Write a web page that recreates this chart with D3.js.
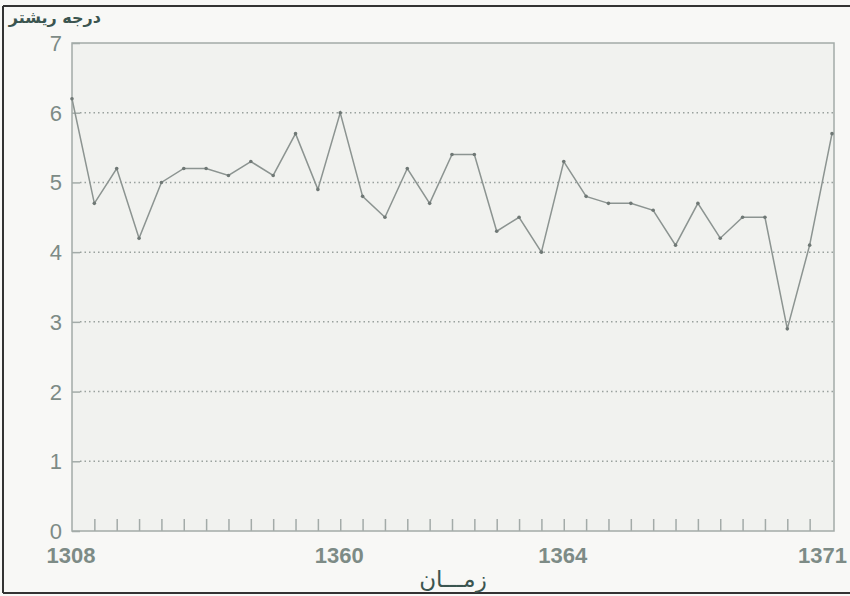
<!DOCTYPE html>
<html lang="fa">
<head>
    <meta charset="UTF-8">
    <title>درجه ریشتر</title>
    <script src="https://d3js.org/d3.v7.min.js"></script>
    <style>
        body { margin: 0; background: #f8f8f6; }
        svg { display: block; }
    </style>
</head>
<body>
    <svg id="chart" width="850" height="596"></svg>

    <script>
        // magnitude per event (left to right)
        const magnitudes = [6.2, 4.7, 5.2, 4.2, 5.0, 5.2, 5.2, 5.1, 5.3, 5.1,
                            5.7, 4.9, 6.0, 4.8, 4.5, 5.2, 4.7, 5.4, 5.4, 4.3,
                            4.5, 4.0, 5.3, 4.8, 4.7, 4.7, 4.6, 4.1, 4.7, 4.2,
                            4.5, 4.5, 2.9, 4.1, 5.7];
        const xTickIndex = [0, 12, 22, 34];
        const xTickLabels = ["1308", "1360", "1364", "1371"];
        const yTicks = [0, 1, 2, 3, 4, 5, 6, 7];

        const width = 850, height = 596;
        const margin = { top: 43, right: 16, bottom: 65, left: 72 };
        const textColor = "#7d8b86";
        const axisColor = "#a3aba8";
        const lineColor = "#8c9491";

        const svg = d3.select("#chart");

        // frame of the scanned page
        svg.append("rect").attr("width", width).attr("height", height).attr("fill", "#f8f8f6");
        svg.append("line").attr("x1", 3).attr("x2", 850).attr("y1", 6).attr("y2", 6)
            .attr("stroke", "#333").attr("stroke-width", 2);
        svg.append("line").attr("x1", 3).attr("x2", 3).attr("y1", 6).attr("y2", 593)
            .attr("stroke", "#333").attr("stroke-width", 2);
        svg.append("line").attr("x1", 3).attr("x2", 850).attr("y1", 593).attr("y2", 593)
            .attr("stroke", "#333").attr("stroke-width", 2);

        const x = d3.scaleLinear()
            .domain([0, magnitudes.length - 1])
            .range([margin.left, 832]);
        const y = d3.scaleLinear()
            .domain([0, 7])
            .range([height - margin.bottom, margin.top]);

        const plotRight = width - margin.right;

        svg.append("rect")
            .attr("x", margin.left).attr("y", margin.top)
            .attr("width", plotRight - margin.left)
            .attr("height", y(0) - margin.top)
            .attr("fill", "#f1f2ef")
            .attr("stroke", axisColor)
            .attr("stroke-width", 1.5);

        // dotted gridlines
        svg.append("g")
            .selectAll("line")
            .data(yTicks.filter(d => d > 0 && d < 7))
            .join("line")
            .attr("x1", margin.left + 8)
            .attr("x2", plotRight)
            .attr("y1", d => y(d))
            .attr("y2", d => y(d))
            .attr("stroke", "#9aa19e")
            .attr("stroke-width", 1.5)
            .attr("stroke-dasharray", "1.5,3");

        // y axis (ticks inside)
        const yAxis = svg.append("g")
            .attr("transform", `translate(${margin.left},0)`)
            .call(d3.axisRight(y).tickValues(yTicks).tickSize(8).tickFormat(""));
        yAxis.select(".domain").remove();
        yAxis.selectAll("line").attr("stroke", axisColor).attr("stroke-width", 1.5);

        svg.append("g")
            .selectAll("text")
            .data(yTicks)
            .join("text")
            .attr("x", 62)
            .attr("y", d => y(d) + 8)
            .attr("text-anchor", "end")
            .attr("font-family", "Liberation Sans, Arial, sans-serif")
            .attr("font-size", 22)
            .attr("fill", textColor)
            .text(d => d);

        // x axis minor ticks pointing up
        const xAxis = svg.append("g")
            .attr("transform", `translate(0,${y(0)})`)
            .call(d3.axisTop(x).tickValues(d3.range(1, magnitudes.length - 1)).tickSize(12).tickFormat(""));
        xAxis.select(".domain").remove();
        xAxis.selectAll("line").attr("stroke", axisColor).attr("stroke-width", 1.5);

        svg.append("g")
            .selectAll("text")
            .data(xTickIndex)
            .join("text")
            .attr("x", (d, i) => i === xTickIndex.length - 1 ? 847 : x(d) - 1)
            .attr("y", 563)
            .attr("text-anchor", (d, i) => i === xTickIndex.length - 1 ? "end" : "middle")
            .attr("font-family", "Liberation Sans, Arial, sans-serif")
            .attr("font-size", 22)
            .attr("font-weight", "bold")
            .attr("fill", textColor)
            .text((d, i) => xTickLabels[i]);

        // the series
        const line = d3.line()
            .x((d, i) => x(i))
            .y(d => y(d));

        svg.append("path")
            .datum(magnitudes)
            .attr("d", line)
            .attr("fill", "none")
            .attr("stroke", lineColor)
            .attr("stroke-width", 1.5);

        svg.append("g")
            .selectAll("circle")
            .data(magnitudes)
            .join("circle")
            .attr("cx", (d, i) => x(i))
            .attr("cy", d => y(d))
            .attr("r", 1.8)
            .attr("fill", "#6f7875");

        // titles
        svg.append("text")
            .attr("x", 101)
            .attr("y", 23)
            .attr("text-anchor", "end")
            .attr("font-family", "DejaVu Sans, sans-serif")
            .attr("font-size", 16)
            .attr("font-weight", "bold")
            .attr("fill", "#3b5550")
            .text("درجه ریشتر");

        svg.append("text")
            .attr("x", 453)
            .attr("y", 587)
            .attr("text-anchor", "middle")
            .attr("font-family", "DejaVu Sans, sans-serif")
            .attr("font-size", 23)
            .attr("fill", "#3b5550")
            .text("زمـــان");
    </script>
</body>
</html>
